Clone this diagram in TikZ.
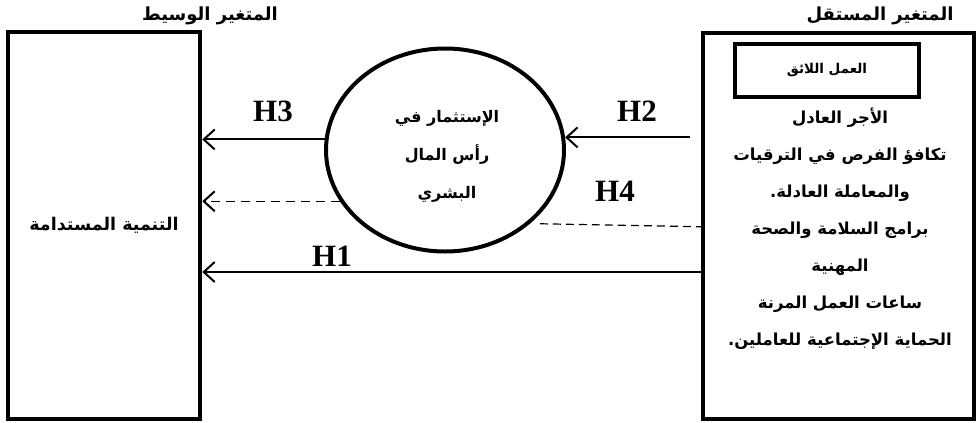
\documentclass[tikz,border=0pt]{standalone}
\usepackage{fontspec}
\setmainfont{Liberation Serif}
\newfontfamily\arabicfont[Script=Arabic]{DejaVu Sans}
\TeXXeTstate=1
\usepackage{tikz}
\usetikzlibrary{arrows.meta,shapes.geometric,positioning}
\newcommand{\rl}[1]{\beginR #1\endR}

\begin{document}
\begin{tikzpicture}[x=1pt, y=-1pt]

\tikzset{varbox/.style={draw,line width=4pt,inner sep=0pt},
arlabel/.style={font={\arabicfont\bfseries\fontsize{16.5}{37}\selectfont},align=center},
hlabel/.style={font={\bfseries\fontsize{31}{31}\selectfont},inner sep=0pt},
link/.style={line width=2pt,arrows={-Straight Barb[length=11pt,width=20pt,line width=2pt]}}}

\useasboundingbox (0,0) rectangle (980,423);

% Headers
\node[arlabel,font={\arabicfont\bfseries\fontsize{18}{20}\selectfont}] (medhead) at (210,16) {\rl{المتغير الوسيط}};
\node[arlabel,font={\arabicfont\bfseries\fontsize{18}{20}\selectfont}] (indhead) at (880,16) {\rl{المتغير المستقل}};

% Boxes
\node[varbox,line width=4.5pt,minimum width=192pt,minimum height=387pt,arlabel,font={\arabicfont\bfseries\fontsize{17.5}{20}\selectfont}] (dv) at (104,225.5) {\rl{التنمية المستدامة}};
\node[varbox,minimum width=271pt,minimum height=386pt] (iv) at (838.5,226) {};
\node[varbox,minimum width=184pt,minimum height=53pt,arlabel,font={\arabicfont\bfseries\fontsize{13.5}{14}\selectfont}] (work) at (827,70.5) {\rl{العمل اللائق}};
\node[arlabel] (items) at (840,229) {\rl{الأجر العادل}\\
\rl{تكافؤ الفرص في الترقيات}\\
\rl{والمعاملة العادلة.}\\
\rl{برامج السلامة والصحة}\\
\rl{المهنية}\\
\rl{ساعات العمل المرنة}\\
\rl{الحماية الإجتماعية للعاملين.}};

% Mediator
\node[varbox,ellipse,minimum width=238pt,minimum height=203pt] (hrm) at (445,150) {};
\node[arlabel,font={\arabicfont\bfseries\fontsize{16}{38}\selectfont}] (hrmtext) at (447,156) {\rl{الإستثمار في}\\ \rl{رأس المال}\\ \rl{البشري}};

% Hypotheses
\coordinate (h1start) at ([yshift=-46pt]iv.west);
\draw[link] (hrm.175) -- (dv.east |- hrm.175);
\draw[link,dash pattern=on 9pt off 6pt,line width=1.5pt] (hrm.206) -- (dv.east |- hrm.206);
\draw[link] ([xshift=-11pt]iv.west |- hrm.6) -- (hrm.6);
\draw[dash pattern=on 8pt off 5pt,line width=1.2pt] ([xshift=10pt]hrm.-41) -- ([yshift=-3pt]iv.west |- hrm.-41);
\draw[link] (h1start) -- (dv.east |- h1start);

\node[hlabel] (h3) at (273,111) {H3};
\node[hlabel] (h2) at (637,111) {H2};
\node[hlabel] (h4) at (615,191) {H4};
\node[hlabel] (h1) at (332,256) {H1};

\end{tikzpicture}
\end{document}
